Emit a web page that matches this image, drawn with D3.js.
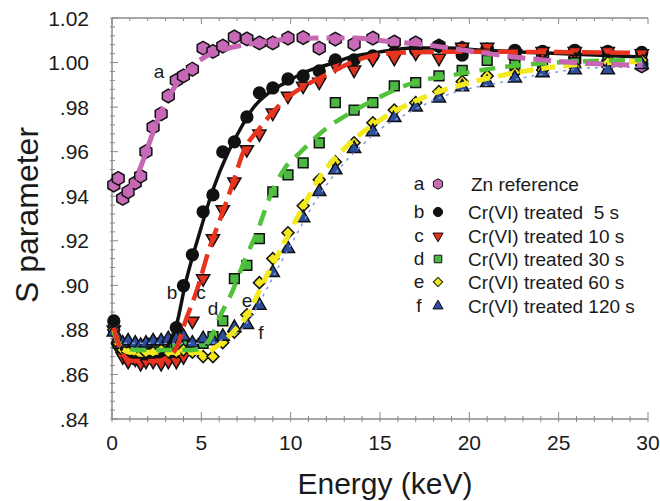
<!DOCTYPE html>
<html>
<head>
<meta charset="utf-8">
<script src="https://cdn.jsdelivr.net/npm/d3@7"></script>
<style>
  body { margin: 0; background: #fff; }
  text { font-family: "Liberation Sans", Arial, sans-serif; fill: #1a1a1a; }
</style>
</head>
<body>
<svg id="chart" width="660" height="501"></svg>
<script>
// measured energies (keV), shared by all samples
var energy = [0.1, 0.35, 0.6, 0.9, 1.3, 1.6, 1.9, 2.3, 2.75, 3.15, 3.6, 4.0, 4.5, 5.1, 5.65,
  6.2, 6.85, 7.55, 8.25, 9.0, 9.85, 10.7, 11.6, 12.5, 13.55, 14.6, 15.8, 17.0, 18.3, 19.6,
  21.0, 22.55, 24.1, 25.9, 27.75, 29.65];

// S parameter of each sample
var sZn = [0.945, 0.948, 0.939, 0.942, 0.946, 0.949, 0.960, 0.971, 0.977, 0.985, 0.992, 0.994,
  0.997, 1.0065, 1.005, 1.0074, 1.0115, 1.0106, 1.0088, 1.0088, 1.011, 1.0112, 1.0065, 1.0105,
  1.0083, 1.011, 1.0092, 1.0088, 1.0075, 1.0065, 1.0055, 1.003, 1.002, 1.0012, 0.9995, 0.9985];
var s5 = [0.884, 0.874, 0.870, 0.868, 0.867, 0.868, 0.867, 0.868, 0.868, 0.870, 0.881, 0.8998,
  0.9137, 0.933, 0.9406, 0.9599, 0.9644, 0.9756, 0.9864, 0.9886, 0.9926, 0.994, 0.9962, 1.0012,
  1.0012, 1.003, 1.0045, 1.0055, 1.0074, 1.0034, 1.006, 1.0055, 1.005, 1.0055, 1.005, 1.0045];
var s10 = [0.880, 0.872, 0.868, 0.866, 0.867, 0.865, 0.866, 0.866, 0.865, 0.866, 0.866, 0.868,
  0.884, 0.903, 0.921, 0.934, 0.9465, 0.961, 0.968, 0.9774, 0.985, 0.9895, 0.9913, 0.9989,
  0.9967, 1.0016, 1.002, 1.0043, 1.002, 1.007, 1.007, 1.004, 1.005, 1.005, 1.005, 1.004];
var s30 = [0.880, 0.874, 0.872, 0.871, 0.872, 0.872, 0.873, 0.874, 0.874, 0.873, 0.872, 0.873,
  0.873, 0.874, 0.877, 0.884, 0.903, 0.909, 0.921, 0.942, 0.9496, 0.955, 0.964, 0.982,
  0.9787, 0.982, 0.9895, 0.991, 0.994, 0.9965, 1.001, 0.999, 1.000, 1.000, 1.001, 1.001];
var s60 = [0.880, 0.874, 0.871, 0.870, 0.870, 0.869, 0.870, 0.870, 0.871, 0.870, 0.870, 0.871,
  0.870, 0.868, 0.868, 0.8743, 0.879, 0.8868, 0.9012, 0.912, 0.9236, 0.9357, 0.9474, 0.9554,
  0.964, 0.973, 0.9787, 0.982, 0.987, 0.9915, 0.994, 0.9955, 0.9967, 0.998, 1.000, 1.001];
var s120 = [0.879, 0.876, 0.874, 0.875, 0.874, 0.873, 0.874, 0.875, 0.875, 0.876, 0.876, 0.877,
  0.874, 0.876, 0.875, 0.877, 0.881, 0.8823, 0.891, 0.9057, 0.9164, 0.9303, 0.942, 0.9518,
  0.9613, 0.9689, 0.9752, 0.980, 0.984, 0.989, 0.991, 0.993, 0.9953, 0.9967, 0.9967, 0.999];

// fitted curves
var fitZnE = [0.7, 1.2, 1.6, 2.0, 2.6, 3.5, 4.3, 4.9, 5.7, 6.8, 8.3, 9.8, 11.5, 13.5, 15.5, 17.5, 19.6, 22.5, 25, 27.5, 29.7];
var fitZnS = [0.941, 0.946, 0.953, 0.962, 0.975, 0.989, 0.997, 1.001, 1.0045, 1.007, 1.009, 1.0105, 1.011, 1.011, 1.0095, 1.008, 1.0057, 1.0025, 1.0005, 0.9993, 0.9988];
var fit5E = [0.1, 0.5, 1.0, 2.0, 2.7, 3.2, 3.64, 4.08, 4.92, 5.65, 6.49, 7.0, 7.9, 8.84, 9.79, 10.69, 11.64, 12.59, 13.15, 15.0, 16.84, 18.75, 20.6, 24.3, 29.66];
var fit5S = [0.883, 0.872, 0.868, 0.867, 0.869, 0.874, 0.8832, 0.8998, 0.924, 0.9429, 0.9595, 0.9675, 0.9796, 0.9868, 0.9913, 0.9953, 0.998, 1.0003, 1.002, 1.0048, 1.0065, 1.0065, 1.0056, 1.0043, 1.0025];
var fit10E = [0.1, 0.6, 1.2, 2.5, 3.2, 3.64, 4.08, 4.76, 5.48, 6.04, 6.77, 7.33, 8.28, 9.01, 9.79, 10.69, 11.64, 12.76, 13.5, 15.72, 18.75, 22.44, 29.66];
var fit10S = [0.881, 0.869, 0.866, 0.866, 0.868, 0.8725, 0.8832, 0.898, 0.9173, 0.9294, 0.946, 0.9595, 0.9707, 0.9778, 0.9841, 0.9891, 0.9931, 0.9976, 1.0005, 1.0043, 1.0048, 1.0048, 1.0043];
var fit30E = [0.1, 0.6, 1.5, 3.0, 4.5, 5.0, 5.5, 6.04, 6.72, 7.44, 8.17, 8.84, 9.68, 10.52, 11.08, 12.03, 13.15, 14.44, 15.0, 16.84, 19.08, 21.54, 24.34, 29.66];
var fit30S = [0.879, 0.872, 0.871, 0.871, 0.871, 0.872, 0.876, 0.886, 0.897, 0.9115, 0.925, 0.9397, 0.9527, 0.9595, 0.964, 0.9707, 0.9765, 0.9823, 0.9846, 0.9909, 0.9944, 0.9976, 0.9998, 1.0012];
var fit60E = [0.1, 0.5, 1.0, 3.0, 4.48, 5.3, 5.76, 6.77, 7.61, 8.45, 9.23, 10.07, 10.91, 11.64, 12.59, 13.71, 14.6, 15.95, 17.8, 20.2, 22.83, 25.8, 28.82, 29.66];
var fit60S = [0.880, 0.872, 0.870, 0.870, 0.8698, 0.870, 0.872, 0.879, 0.887, 0.901, 0.9128, 0.9258, 0.9384, 0.9487, 0.958, 0.9666, 0.972, 0.9787, 0.9855, 0.9913, 0.9958, 0.9989, 1.0003, 1.0005];
var fit120E = [0.1, 0.6, 3.0, 5.5, 6.5, 7.2, 7.8, 8.5, 9.3, 10.2, 11.1, 12.0, 13.0, 14.0, 15.0, 16.5, 18.75, 21.7, 24.9, 26.7, 29.66];
var fit120S = [0.879, 0.874, 0.874, 0.874, 0.877, 0.880, 0.886, 0.896, 0.908, 0.921, 0.934, 0.945, 0.955, 0.963, 0.970, 0.977, 0.9855, 0.991, 0.9958, 0.9976, 0.998];

var letters = ["a", "b", "c", "d", "e", "f"];
var labels = ["Zn reference", "Cr(VI) treated  5 s", "Cr(VI) treated 10 s",
  "Cr(VI) treated 30 s", "Cr(VI) treated 60 s", "Cr(VI) treated 120 s"];
var xTicks = [0, 5, 10, 15, 20, 25, 30];
var yTicks = [0.84, 0.86, 0.88, 0.90, 0.92, 0.94, 0.96, 0.98, 1.00, 1.02];

// hexagon marker for the Zn reference
var symbolHexagon = {
  draw: function(ctx, size) {
    var r = Math.sqrt(size / (1.5 * Math.sqrt(3)));
    for (var i = 0; i < 6; i++) {
      var a = Math.PI / 3 * i - Math.PI / 2;
      if (i == 0) ctx.moveTo(r * Math.cos(a), r * Math.sin(a));
      else ctx.lineTo(r * Math.cos(a), r * Math.sin(a));
    }
    ctx.closePath();
  }
};

var series = [
  {s: sZn, fe: fitZnE, fs: fitZnS, sym: symbolHexagon, rot: 0, size: 120, fill: "#c76ab8",
    stroke: "#c767b3", width: 5, dash: "18,8"},
  {s: s5, fe: fit5E, fs: fit5S, sym: d3.symbolCircle, rot: 0, size: 110, fill: "#111",
    stroke: "#111", width: 3.5, dash: null},
  {s: s10, fe: fit10E, fs: fit10S, sym: d3.symbolTriangle, rot: 180, size: 75, fill: "#e3321f",
    stroke: "#e8331e", width: 4.5, dash: "20,8"},
  {s: s30, fe: fit30E, fs: fit30S, sym: d3.symbolSquare, rot: 0, size: 95, fill: "#4cb844",
    stroke: "#52c23a", width: 4.5, dash: "16,10"},
  {s: s60, fe: fit60E, fs: fit60S, sym: d3.symbolSquare, rot: 45, size: 72, fill: "#f2e61c",
    stroke: "#f2ea1e", width: 5, dash: "14,8"},
  {s: s120, fe: fit120E, fs: fit120S, sym: d3.symbolTriangle, rot: 0, size: 75, fill: "#2d4e9e",
    stroke: "#7d9ad8", width: 1.5, dash: "3,5"}
];

var svg = d3.select("#chart");
var x = d3.scaleLinear().domain([0, 30]).range([112, 648]);
var y = d3.scaleLinear().domain([0.84, 1.02]).range([419, 18]);
var axisColor = "#8a8a8a";

// frame: left, bottom, top
var frame = svg.append("g").attr("stroke", axisColor).attr("stroke-width", 1.5);
frame.append("line").attr("x1", x(0)).attr("x2", x(0)).attr("y1", y(1.02)).attr("y2", y(0.84));
frame.append("line").attr("x1", x(0)).attr("x2", x(30)).attr("y1", y(0.84)).attr("y2", y(0.84));
frame.append("line").attr("x1", x(0)).attr("x2", x(30)).attr("y1", y(1.02)).attr("y2", y(1.02));

// tick marks
var ticks = svg.append("g").attr("stroke", axisColor).attr("stroke-width", 1);
d3.range(0, 30.01, 1).forEach(function(v) {
  var major = v % 5 == 0;
  ticks.append("line").attr("x1", x(v)).attr("x2", x(v))
    .attr("y1", y(0.84) + 3).attr("y2", y(0.84) - (major ? 7 : 3));
  ticks.append("line").attr("x1", x(v)).attr("x2", x(v))
    .attr("y1", y(1.02)).attr("y2", y(1.02) + (major ? 6 : 3));
});
d3.range(0.84, 1.0201, 0.004).forEach(function(v) {
  var major = Math.abs(Math.round(v / 0.02) * 0.02 - v) < 1e-6;
  ticks.append("line").attr("x1", x(0) - 2).attr("x2", x(0) + (major ? 6 : 3))
    .attr("y1", y(v)).attr("y2", y(v));
});

// tick labels
svg.append("g").selectAll("text").data(xTicks).join("text")
  .attr("x", function(d) { return x(d); }).attr("y", 450)
  .attr("text-anchor", "middle").attr("font-size", 21)
  .text(function(d) { return d; });
svg.append("g").selectAll("text").data(yTicks).join("text")
  .attr("x", 89).attr("y", function(d) { return y(d) + 7.5; })
  .attr("text-anchor", "end").attr("font-size", 21)
  .text(function(d) { return d3.format(".2f")(d).replace(/^0/, ""); });

// axis titles
svg.append("text").attr("x", 385).attr("y", 494).attr("text-anchor", "middle")
  .attr("font-size", 30).text("Energy (keV)");
svg.append("text").attr("transform", "translate(38,215) rotate(-90)")
  .attr("text-anchor", "middle").attr("font-size", 32).text("S parameter");

// markers
series.forEach(function(sr) {
  var sym = d3.symbol().type(sr.sym).size(sr.size);
  svg.append("g").selectAll("path").data(energy).join("path")
    .attr("d", sym)
    .attr("transform", function(d, i) {
      return "translate(" + x(d) + "," + y(sr.s[i]) + ") rotate(" + sr.rot + ")";
    })
    .attr("fill", sr.fill).attr("stroke", "#111").attr("stroke-width", 1.5);
});

// fitted curves on top of the markers
var drawOrder = [1, 5, 4, 3, 2, 0];
drawOrder.forEach(function(k) {
  var sr = series[k];
  var line = d3.line()
    .x(function(d) { return x(d); })
    .y(function(d, i) { return y(sr.fs[i]); })
    .curve(d3.curveMonotoneX);
  svg.append("path").attr("d", line(sr.fe))
    .attr("fill", "none").attr("stroke", sr.stroke).attr("stroke-width", sr.width)
    .attr("stroke-dasharray", sr.dash);
});

// curve letters
var letterPos = [[159, 78], [172, 299], [201, 299], [213, 315], [247, 307], [261, 339]];
svg.append("g").selectAll("text").data(letters).join("text")
  .attr("x", function(d, i) { return letterPos[i][0]; })
  .attr("y", function(d, i) { return letterPos[i][1]; })
  .attr("text-anchor", "middle").attr("font-size", 19)
  .text(function(d) { return d; });

// legend
var legendY = [184, 212, 236, 259, 282, 306];
var legend = svg.append("g");
series.forEach(function(sr, i) {
  var row = legend.append("g").attr("transform", "translate(0," + legendY[i] + ")");
  row.append("text").attr("x", 419).attr("y", 6).attr("text-anchor", "middle")
    .attr("font-size", 19).text(letters[i]);
  row.append("path").attr("d", d3.symbol().type(sr.sym).size(sr.size * 0.6)())
    .attr("transform", "translate(438,0) rotate(" + sr.rot + ")")
    .attr("fill", sr.fill).attr("stroke", "#111").attr("stroke-width", 1);
  row.append("text").attr("x", i == 0 ? 471 : 468).attr("y", 7)
    .attr("font-size", 19).attr("xml:space", "preserve")
    .style("white-space", "pre").text(labels[i]);
});
</script>
</body>
</html>
